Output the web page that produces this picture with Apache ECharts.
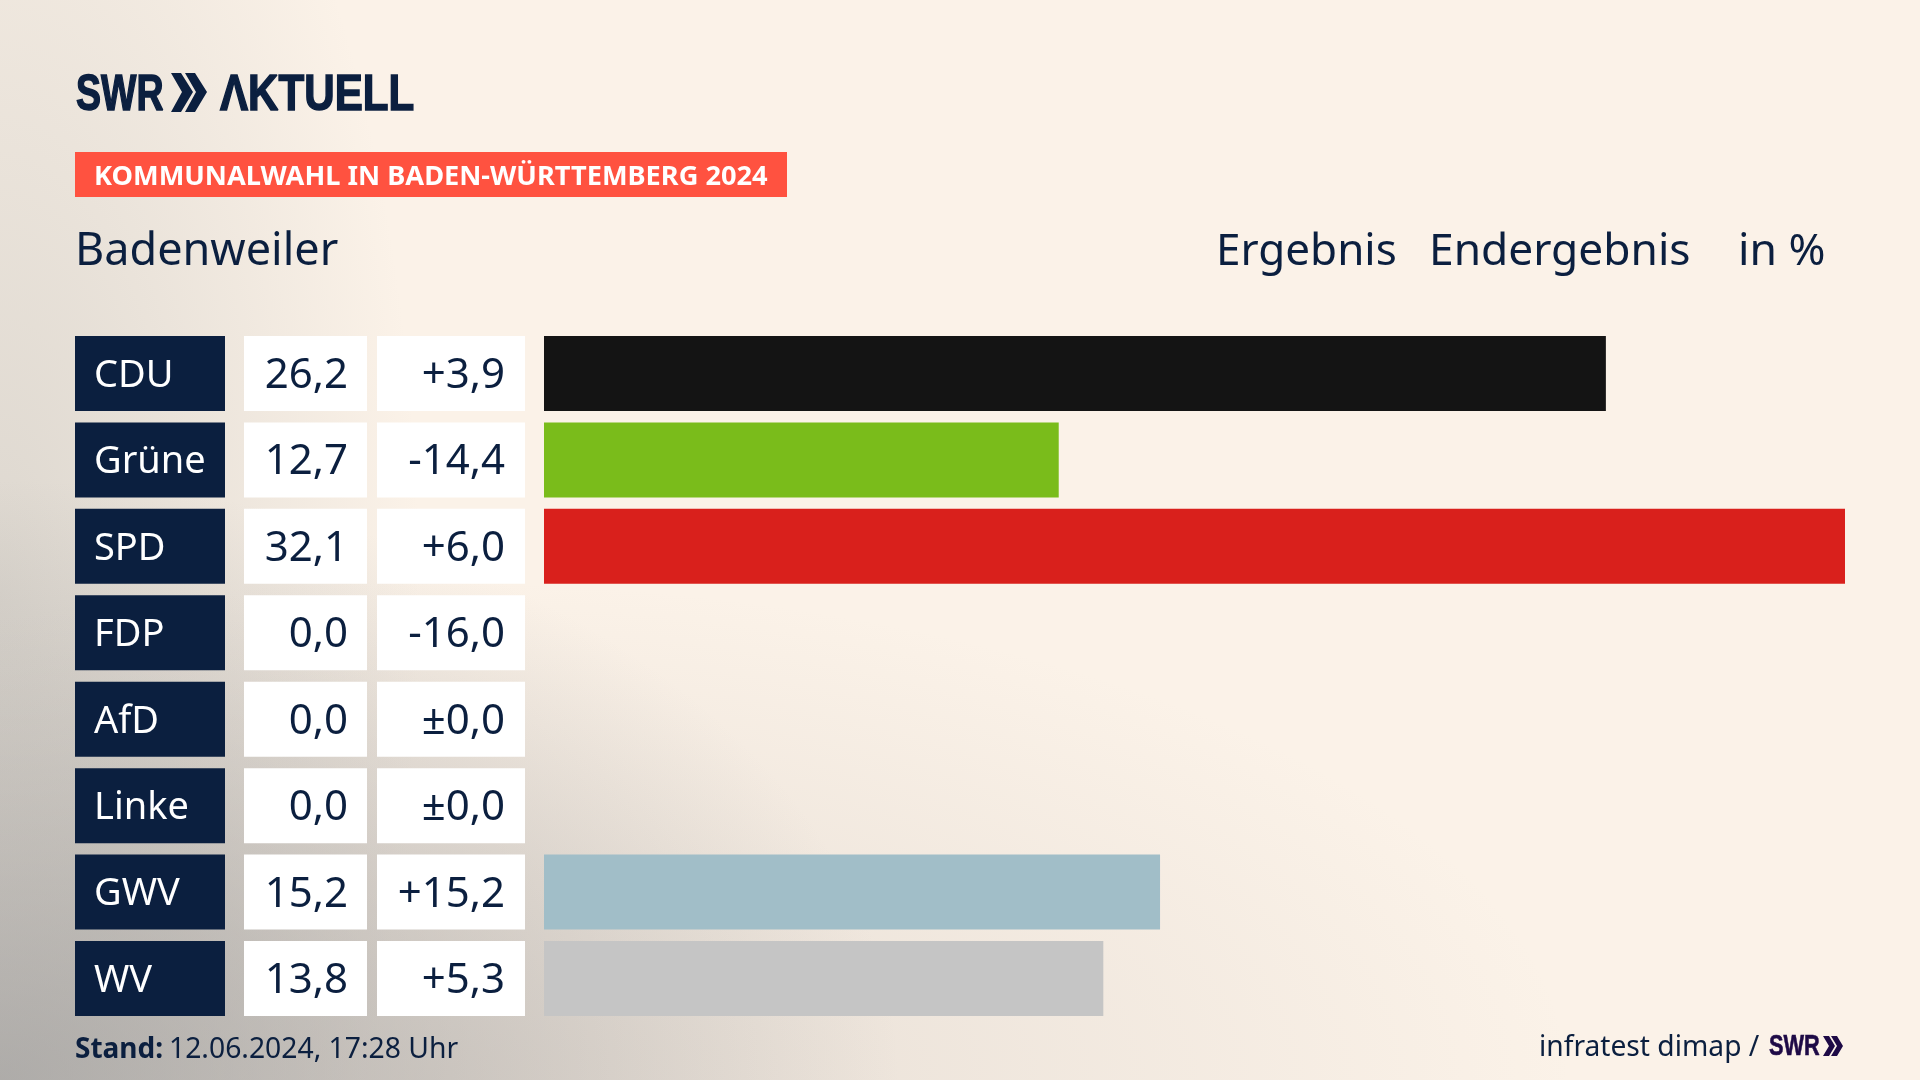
<!DOCTYPE html>
<html>
<head>
<meta charset="utf-8">
<title>Kommunalwahl Badenweiler</title>
<script src="https://cdn.jsdelivr.net/npm/echarts@6/dist/echarts.min.js"></script>
<style>
  html, body { margin: 0; padding: 0; width: 1920px; height: 1080px; overflow: hidden; }
  body {
    background:
      radial-gradient(ellipse 900px 600px at 0% 100%, rgba(150,150,150,.68), rgba(150,150,150,0) 100%),
      radial-gradient(ellipse 1150px 500px at 22% 100%, rgba(190,182,175,.36), rgba(190,182,175,0) 100%),
      radial-gradient(ellipse 420px 1000px at 0% 55%, rgba(190,188,182,.5), rgba(190,188,182,0) 100%),
      #fbf2e8;
  }
  #chart { width: 1920px; height: 1080px; }
</style>
</head>
<body>
<div id="chart"></div>
<script>
// Werte aus der Grafik
var parties = ['CDU', 'Grüne', 'SPD', 'FDP', 'AfD', 'Linke', 'GWV', 'WV'];
var results = [26.2, 12.7, 32.1, 0.0, 0.0, 0.0, 15.2, 13.8];
var changes = [3.9, -14.4, 6.0, -16.0, 0.0, 0.0, 15.2, 5.3];
var partyColors = ['#141414', '#7abc1b', '#d9201c', '#000000', '#009ee0', '#be3075', '#a1bec8', '#c5c5c5'];

var navy = '#0b1f3f';
var font = '"Noto Sans", sans-serif';
var logoFont = '"Liberation Sans", sans-serif';

function fmt(v) {
  return v.toFixed(1).replace('.', ',');
}
function fmtChange(v) {
  if (v === 0) return '±0,0';
  return (v > 0 ? '+' : '-') + fmt(Math.abs(v));
}

// schmal gezogener Logo-Schriftzug
function logoText(text, x, y, size, sx, fill, weight) {
  return {
    type: 'text', x: x, y: y, scaleX: sx,
    style: {
      text: text, x: 0, y: 0, verticalAlign: 'middle',
      font: 'bold ' + size + 'px ' + logoFont,
      fill: fill, stroke: fill, lineWidth: weight
    }
  };
}

function label(text, x, y, css) {
  return { type: 'text', left: x, top: y, style: { text: text, font: css + ' ' + font, fill: navy } };
}

var chart = echarts.init(document.getElementById('chart'), null, { width: 1920, height: 1080 });

chart.setOption({
  animation: false,
  backgroundColor: 'transparent',
  grid: { left: 544, width: 1301, top: 330.3, height: 691.4 },
  xAxis: { type: 'value', min: 0, max: 32.1, show: false },
  yAxis: {
    type: 'category',
    inverse: true,
    data: parties,
    axisLine: { show: false },
    axisTick: { show: false },
    axisLabel: {
      margin: 19,
      // Name, Ergebnis und Differenz als Kaesten links neben dem Balken
      formatter: function (name, i) {
        return '{name|' + name + '}{gapA|}{val|' + fmt(results[i]) + '}{gapB|}{diff|' + fmtChange(changes[i]) + '}';
      },
      rich: {
        name: { width: 131, height: 70, lineHeight: 70, padding: [5, 0, 0, 19], backgroundColor: navy, color: '#fff', fontSize: 38, fontFamily: font, align: 'left' },
        gapA: { width: 19, height: 75 },
        val: { width: 104, height: 70, lineHeight: 70, padding: [5, 19, 0, 0], backgroundColor: '#fff', color: navy, fontSize: 42, fontFamily: font, align: 'right' },
        gapB: { width: 10, height: 75 },
        diff: { width: 128, height: 70, lineHeight: 70, padding: [5, 20, 0, 0], backgroundColor: '#fff', color: navy, fontSize: 42, fontFamily: font, align: 'right' }
      }
    }
  },
  series: [{
    type: 'bar',
    barWidth: 75,
    data: results.map(function (v, i) {
      return { value: v, itemStyle: { color: partyColors[i] } };
    })
  }],
  graphic: [
    // Logo
    logoText('SWR', 76, 96, 50, 0.75, navy, 1.5),
    { type: 'polygon', shape: { points: [[171, 73], [182, 92], [171, 112], [181, 112], [193, 92], [181, 73]] }, style: { fill: navy } },
    { type: 'polygon', shape: { points: [[185, 73], [196, 92], [185, 112], [195, 112], [207, 92], [195, 73]] }, style: { fill: navy } },
    logoText('ΛKTUELL', 220, 96, 50, 0.843, navy, 1.5),
    // Kopfzeile
    { type: 'rect', shape: { x: 75, y: 152, width: 712, height: 45 }, style: { fill: '#ff5240' } },
    { type: 'text', left: 94, top: 164, style: { text: 'KOMMUNALWAHL IN BADEN-WÜRTTEMBERG 2024', font: 'bold 27.2px ' + font, fill: '#fff' } },
    label('Badenweiler', 75, 230, '45px'),
    label('Ergebnis', 1216, 230, '44px'),
    label('Endergebnis', 1429, 230, '44.3px'),
    label('in %', 1738, 230, '44.5px'),
    // Fusszeile
    label('Stand:', 75, 1036, 'bold 28px'),
    label('12.06.2024, 17:28 Uhr', 169, 1036, '28.3px'),
    label('infratest dimap /', 1539, 1034, '28.2px'),
    logoText('SWR', 1769, 1047, 29, 0.75, '#1e0a46', 0.6),
    { type: 'polygon', shape: { points: [[1823, 1036], [1829, 1046], [1823, 1056], [1829, 1056], [1835, 1046], [1829, 1036]] }, style: { fill: '#1e0a46' } },
    { type: 'polygon', shape: { points: [[1831, 1036], [1837, 1046], [1831, 1056], [1837, 1056], [1843, 1046], [1837, 1036]] }, style: { fill: '#1e0a46' } }
  ]
});
</script>
</body>
</html>
